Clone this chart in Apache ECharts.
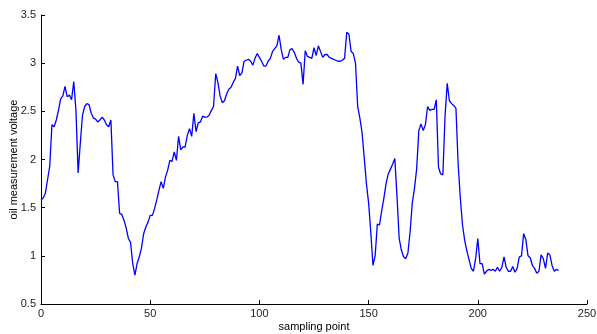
<!DOCTYPE html>
<html>
<head>
<meta charset="utf-8">
<script src="https://cdn.jsdelivr.net/npm/echarts@6/dist/echarts.min.js"></script>
<style>
html,body{margin:0;padding:0;background:#fff;}
#c{width:597px;height:334px;}
</style>
</head>
<body>
<div id="c"></div>
<script>
var xTicks = [0, 50, 100, 150, 200, 250];
var yTicks = [0.5, 1, 1.5, 2, 2.5, 3, 3.5];
var voltage = [
1.58,1.60,1.65,1.79,1.93,2.36,2.34,2.41,2.51,2.63,
2.66,2.76,2.65,2.67,2.62,2.81,2.51,1.86,2.17,2.46,
2.55,2.58,2.57,2.48,2.43,2.42,2.39,2.41,2.44,2.41,
2.36,2.34,2.41,1.84,1.77,1.77,1.44,1.43,1.37,1.29,
1.18,1.14,0.92,0.80,0.92,0.99,1.08,1.23,1.30,1.35,
1.42,1.42,1.49,1.58,1.68,1.77,1.70,1.82,1.89,1.99,
1.98,2.08,1.99,2.24,2.10,2.13,2.13,2.25,2.32,2.24,
2.48,2.29,2.38,2.39,2.45,2.44,2.44,2.46,2.51,2.55,
2.89,2.80,2.66,2.59,2.61,2.68,2.73,2.75,2.80,2.84,
2.97,2.87,2.90,3.02,3.03,3.04,3.02,2.98,3.05,3.10,
3.06,3.02,2.97,2.97,3.02,3.05,3.12,3.15,3.18,3.29,
3.14,3.04,3.06,3.06,3.14,3.15,3.11,3.05,3.01,3.00,
2.78,3.13,3.07,3.06,3.05,3.16,3.08,3.18,3.12,3.06,
3.09,3.09,3.06,3.05,3.04,3.03,3.02,3.02,3.03,3.05,
3.32,3.30,3.12,3.10,3.00,2.55,2.43,2.28,2.02,1.75,
1.55,1.25,0.90,1.00,1.33,1.32,1.47,1.60,1.75,1.85,
1.90,1.95,2.01,1.62,1.18,1.06,0.99,0.97,1.03,1.25,
1.55,1.70,1.90,2.30,2.37,2.30,2.36,2.55,2.51,2.52,
2.52,2.62,1.92,1.85,1.84,2.45,2.79,2.61,2.58,2.56,
2.53,1.95,1.60,1.32,1.16,1.05,0.96,0.87,0.84,0.97,
1.18,0.92,0.92,0.81,0.84,0.86,0.85,0.86,0.84,0.88,
0.84,0.88,0.99,0.88,0.84,0.84,0.89,0.83,0.87,0.99,
1.00,1.23,1.17,1.00,0.98,0.90,0.87,0.82,0.84,1.01,
0.97,0.87,1.03,1.01,0.90,0.84,0.86,0.85
];
var points = voltage.map(function(v, i){ return [i, v]; });

var chart = echarts.init(document.getElementById('c'), null, {renderer:'canvas'});
var font = 'Liberation Sans, Arial, sans-serif';
chart.setOption({
  animation: false,
  backgroundColor: '#fff',
  grid: {left: 41, right: 10, top: 15, bottom: 30, containLabel: false, outerBoundsMode: 'none'},
  xAxis: {
    type: 'value',
    min: xTicks[0], max: xTicks[xTicks.length-1], interval: 50,
    name: 'sampling point', nameLocation: 'middle', nameGap: 17, nameMoveOverlap: false,
    nameTextStyle: {color: '#000', fontSize: 11, fontFamily: font},
    axisLine: {show: true, lineStyle: {color: '#000', width: 1}},
    axisTick: {show: true, inside: true, length: 4, lineStyle: {color: '#000'}},
    axisLabel: {color: '#222', fontSize: 11, fontFamily: font, margin: 4},
    splitLine: {show: false}
  },
  yAxis: {
    type: 'value',
    min: yTicks[0], max: yTicks[yTicks.length-1], interval: 0.5,
    name: 'oil measurement voltage', nameLocation: 'middle', nameGap: 22, nameMoveOverlap: false,
    nameTextStyle: {color: '#000', fontSize: 11, fontFamily: font},
    axisLine: {show: true, lineStyle: {color: '#000', width: 1}},
    axisTick: {show: true, inside: true, length: 4, lineStyle: {color: '#000'}},
    axisLabel: {color: '#222', fontSize: 11, fontFamily: font, margin: 5},
    splitLine: {show: false}
  },
  series: [{
    type: 'line',
    data: points,
    showSymbol: false,
    symbol: 'none',
    lineStyle: {color: '#0000ff', width: 1.3},
    itemStyle: {color: '#0000ff'}
  }]
});
</script>
</body>
</html>
